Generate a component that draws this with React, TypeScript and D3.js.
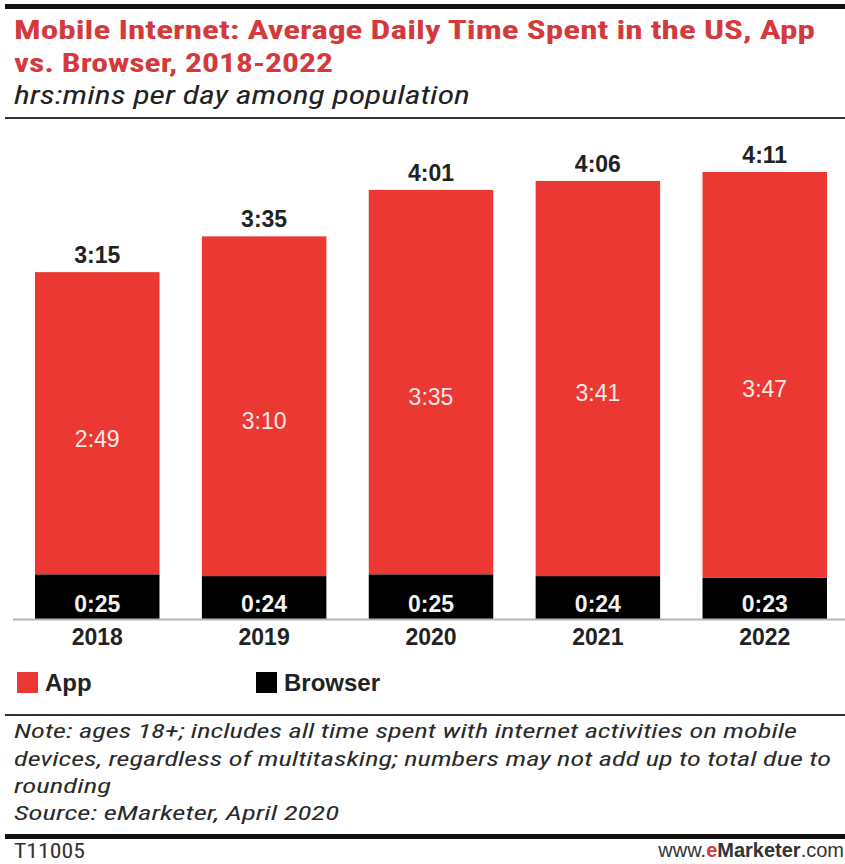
import React from 'react';
import * as d3 from 'd3';

const years = ['2018', '2019', '2020', '2021', '2022'];
const appMinutes = [169, 190, 215, 221, 227];
const browserMinutes = [25, 24, 25, 24, 23];
const totalMinutes = [195, 215, 241, 246, 251];
const seriesKeys = ['browser', 'app'];
const legendLabels = ['App', 'Browser'];

const titleLines = ['Mobile Internet: Average Daily Time Spent in the US, App', 'vs. Browser, 2018-2022'];
const subtitle = 'hrs:mins per day among population';
const noteLines = [
  'Note: ages 18+; includes all time spent with internet activities on mobile',
  'devices, regardless of multitasking; numbers may not add up to total due to',
  'rounding',
  'Source: eMarketer, April 2020',
];

const W = 845;
const H = 864;
const RED = '#eb3832';
const TITLE_RED = '#d4393b';
const NARROW = "'Liberation Sans Narrow', 'Arial Narrow', 'Roboto Condensed', 'Liberation Sans', sans-serif";
const SANS = "'Liberation Sans', Arial, Helvetica, sans-serif";

const fmt = (m: number) => `${Math.floor(m / 60)}:${String(m % 60).padStart(2, '0')}`;

export default function App() {
  const rows = years.map((y, i) => ({ year: y, app: appMinutes[i], browser: browserMinutes[i], total: totalMinutes[i] }));
  const stack = d3.stack<any>().keys(seriesKeys)(rows);
  const x = d3.scaleBand<string>().domain(years).range([35, 827]).paddingInner(0.254).paddingOuter(0);
  const baseY = 619;
  const y = d3.scaleLinear().domain([0, 250]).range([baseY, 172]);
  const colors: Record<string, string> = { app: RED, browser: '#000' };
  const bw = x.bandwidth();

  const titleLens = [801, 319];
  const noteLens = [783, 817, 97, 325];
  const noteY = [738, 766, 793, 820];

  return (
    <svg width={W} height={H} viewBox={`0 0 ${W} ${H}`} style={{ position: 'absolute', left: 0, top: 0, background: '#fff' }}>
      <rect x={0} y={0} width={W} height={H} fill="#fff" />
      {/* top rule */}
      <rect x={5} y={4} width={W - 5} height={5} fill="#111" />
      {titleLines.map((t, i) => (
        <text key={t} x={14} y={39 + i * 33} fill={TITLE_RED} fontFamily={NARROW} fontWeight="bold" fontSize={26}
          textLength={titleLens[i]} lengthAdjust="spacingAndGlyphs">{t}</text>
      ))}
      <text x={14} y={104} fill="#222" fontFamily={NARROW} fontStyle="italic" fontSize={25}
        textLength={456} lengthAdjust="spacingAndGlyphs">{subtitle}</text>
      <rect x={5} y={117} width={W - 5} height={2} fill="#333" />

      {/* bars */}
      {stack.map((s) => (
        <g key={s.key}>
          {s.map((d, i) => (
            <rect key={years[i]} x={x(years[i])} y={y(d[1])} width={bw} height={y(d[0]) - y(d[1])} fill={colors[s.key]} />
          ))}
        </g>
      ))}
      {/* axis line */}
      <rect x={13} y={baseY - 0.5} width={W - 13} height={2} fill="#b5b5b5" />

      {rows.map((r, i) => {
        const cx = (x(r.year) as number) + bw / 2;
        const top = y(r.app + r.browser);
        return (
          <g key={r.year}>
            <text x={cx} y={top - 9} textAnchor="middle" fontFamily={SANS} fontWeight="bold" fontSize={23} fill="#222">{fmt(r.total)}</text>
            <text x={cx} y={(top + baseY) / 2 + 1} textAnchor="middle" fontFamily={SANS} fontSize={23} fill="#fbe9e8">{fmt(r.app)}</text>
            <text x={cx} y={612} textAnchor="middle" fontFamily={SANS} fontWeight="bold" fontSize={23} fill="#f2f2f2">{fmt(r.browser)}</text>
            <text x={cx} y={645} textAnchor="middle" fontFamily={SANS} fontWeight="bold" fontSize={23} fill="#222">{r.year}</text>
          </g>
        );
      })}

      {/* legend */}
      {legendLabels.map((l, i) => {
        const lx = i === 0 ? 17 : 256;
        return (
          <g key={l}>
            <rect x={lx} y={672} width={21} height={21} fill={i === 0 ? RED : '#000'} />
            <text x={lx + 28} y={691} fontFamily={SANS} fontWeight="bold" fontSize={24} fill="#222">{l}</text>
          </g>
        );
      })}

      <rect x={5} y={714} width={W - 5} height={2} fill="#333" />
      {noteLines.map((t, i) => (
        <text key={i} x={14} y={noteY[i]} fill="#2a2a2a" fontFamily={NARROW} fontStyle="italic" fontSize={21}
          textLength={noteLens[i]} lengthAdjust="spacingAndGlyphs">{t}</text>
      ))}
      <rect x={5} y={834} width={W - 5} height={5} fill="#111" />
      <text x={14} y={858} fill="#333" fontFamily={NARROW} fontSize={20} textLength={71} lengthAdjust="spacingAndGlyphs">T11005</text>
      <text x={844} y={857} textAnchor="end" fontFamily={SANS} fontSize={20} fill="#333">
        <tspan>www.</tspan>
        <tspan fill={TITLE_RED} fontWeight="bold">e</tspan>
        <tspan fontWeight="bold">Marketer</tspan>
        <tspan>.com</tspan>
      </text>
    </svg>
  );
}
